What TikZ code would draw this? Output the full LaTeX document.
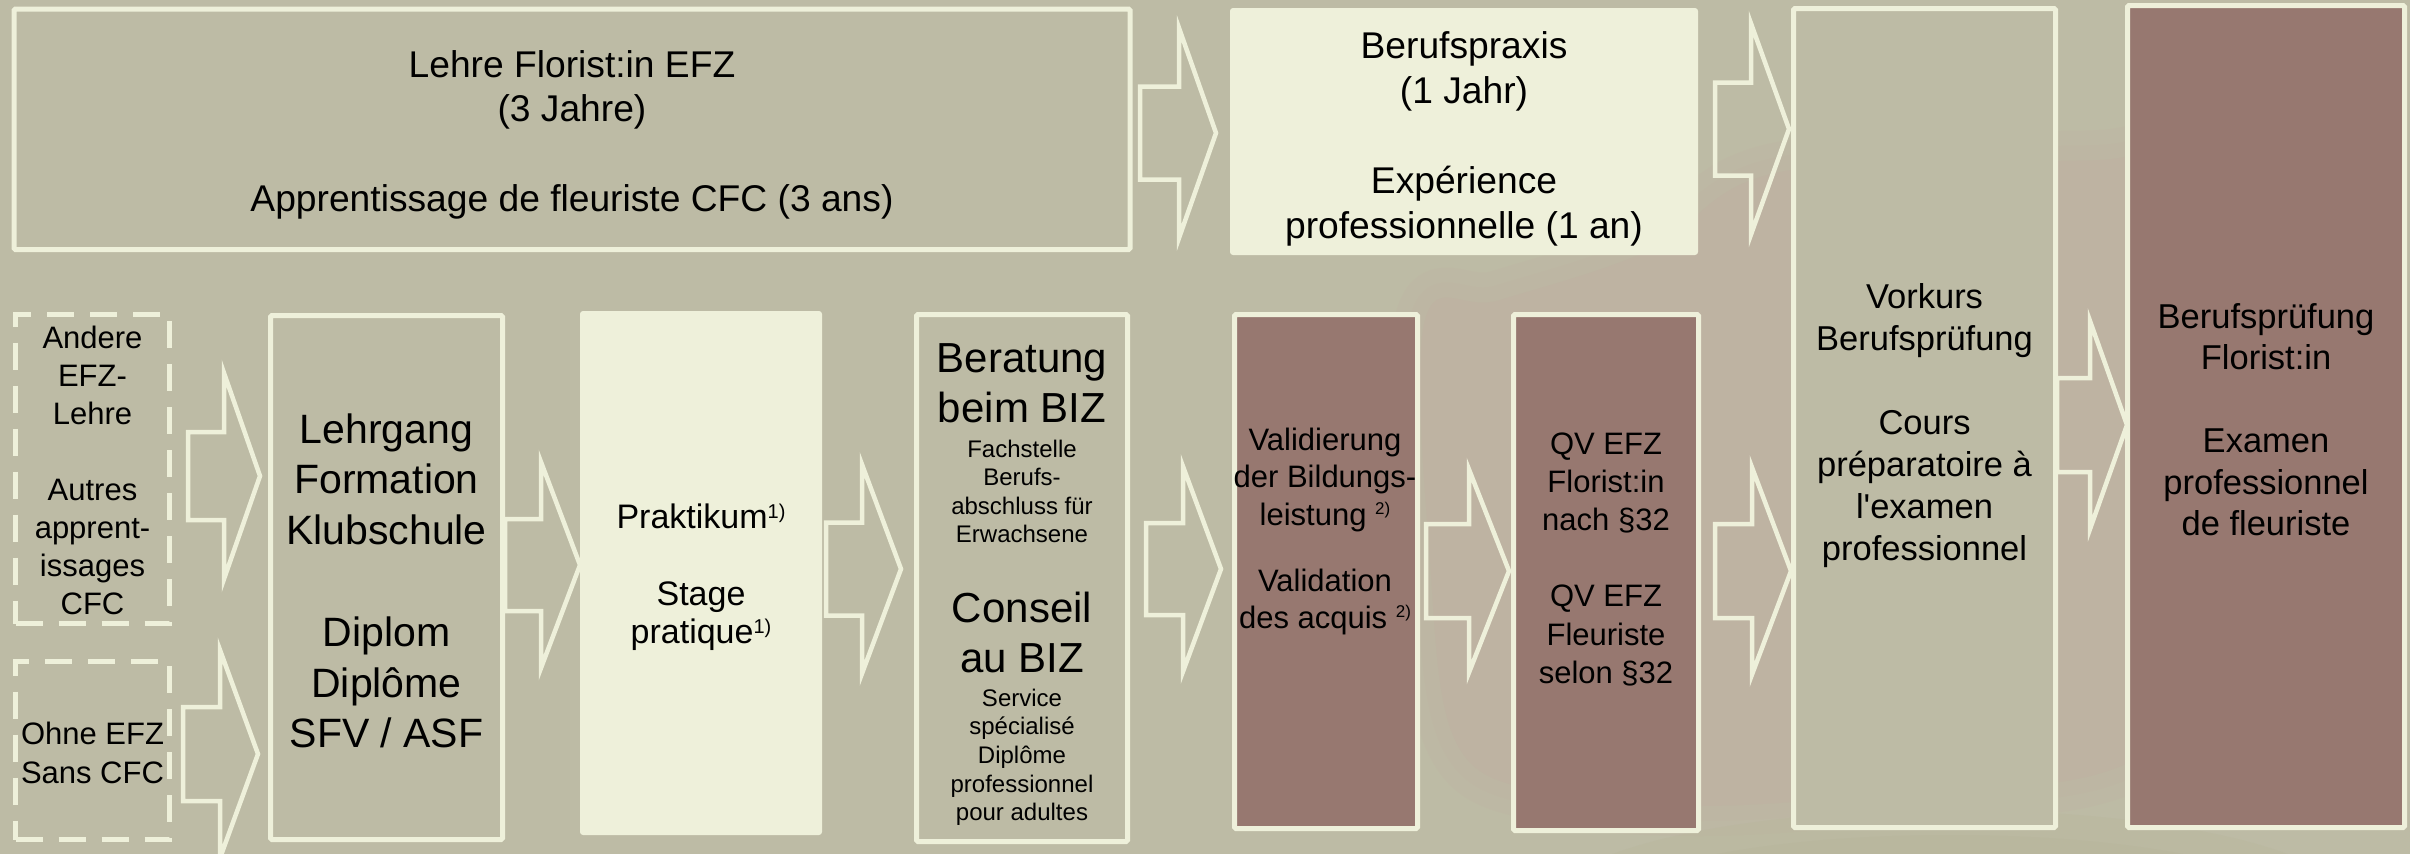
\documentclass[tikz,border=0pt]{standalone}
\usepackage{fontspec}
\setmainfont{Liberation Sans}
\usetikzlibrary{calc}
\definecolor{bg}{HTML}{BDBBA5}
\definecolor{ringc}{HTML}{BEB3A2}
\definecolor{olive}{HTML}{B8B69C}
\definecolor{cream}{HTML}{EEF0DA}
\definecolor{mauve}{HTML}{977870}
\newcommand\fsz[2]{\fontsize{#1pt}{#2pt}\selectfont}
\newcommand\myst[1]{\rule{0pt}{#1pt}}
\newcommand\supa{\raisebox{10pt}{\fsz{20}{20}1)}}
\newcommand\supb{\raisebox{11pt}{\fsz{17}{17}2)}}
\newcommand\swirlpath{plot[smooth cycle,tension=0.6] coordinates {(1425,320) (1430,560) (1455,740)
  (1540,792) (1700,806) (1900,792) (2130,762) (2300,600) (2300,150) (2100,160)
  (1780,172) (1650,250) (1500,300)}}
% #1 tail coord, #2 tip coord, #3 head length, #4 shaft half height, #5 head half height
\newcommand\barrow[5]{%
  \draw[blockarrow] let \p1=(#1), \p2=(#2) in
    (\x1,\y1+#4pt) -- (\x2-#3pt,\y1+#4pt) -- (\x2-#3pt,\y1+#5pt) -- (\x2,\y1)
    -- (\x2-#3pt,\y1-#5pt) -- (\x2-#3pt,\y1-#4pt) -- (\x1,\y1-#4pt) -- cycle;}
\begin{document}
\begin{tikzpicture}[x=1pt,y=-1pt,
  obox/.style={draw=cream,line width=5pt,fill=bg,inner sep=0pt,outer sep=0pt,rounded corners=1.5pt},
  cbox/.style={fill=cream,draw=none,inner sep=0pt,outer sep=0pt,rounded corners=3pt},
  mbox/.style={draw=cream,line width=5pt,fill=mauve,inner sep=0pt,outer sep=0pt,rounded corners=1.5pt},
  dbox/.style={draw=cream,line width=5pt,fill=bg,dash pattern=on 27pt off 16pt,inner sep=0pt,outer sep=0pt},
  blockarrow/.style={draw=cream,line width=4.5pt,line join=miter},
  txt/.style={inner sep=0pt,outer sep=0pt,anchor=north,align=center,text=black}]
\useasboundingbox (0,0) rectangle (2410,854);
\clip (0,0) rectangle (2410,854);
\fill[bg] (0,0) rectangle (2410,854);
% decorative background swirl, soft edged
\draw[ringc,line width=60pt,opacity=0.3,line join=round] \swirlpath;
\draw[ringc,line width=30pt,opacity=0.4,line join=round] \swirlpath;
\fill[ringc] \swirlpath;
\fill[olive,opacity=0.4] (1950,905) ellipse[x radius=400pt,y radius=95pt];
\fill[olive,opacity=0.6] (1950,905) ellipse[x radius=340pt,y radius=70pt];

% arrow end coordinates
\coordinate (tT1) at (1140,133); \coordinate (hT1) at (1216,133);
\coordinate (tT2) at (1715,129); \coordinate (hT2) at (1789,129);
\coordinate (tA1) at (188,476);  \coordinate (hA1) at (260,476);
\coordinate (tA2) at (183,754);  \coordinate (hA2) at (258,754);
\coordinate (tB) at (505,565);   \coordinate (hB) at (580,565);
\coordinate (tC) at (826,569);   \coordinate (hC) at (901,569);
\coordinate (tD) at (1146,569);  \coordinate (hD) at (1221,569);
\coordinate (tE) at (1426,571);  \coordinate (hE) at (1509,571);
\coordinate (tF) at (1715,571);  \coordinate (hF) at (1791,571);
\coordinate (tG) at (2057,425);  \coordinate (hG) at (2127,425);

\barrow{tT1}{hT1}{37}{46.5}{105}
\barrow{tT2}{hT2}{38}{46.5}{105.5}
\barrow{tA1}{hA1}{36}{44}{103}
\barrow{tA2}{hA2}{38}{47}{104}
\barrow{tB}{hB}{39}{46}{103}
\barrow{tC}{hC}{39}{46.5}{104.5}
\barrow{tD}{hD}{38}{46}{102.5}
\barrow{tE}{hE}{40}{47}{101.5}
\barrow{tF}{hF}{39}{47}{103.5}
\barrow{tG}{hG}{37}{47}{104}

% boxes
\node[obox,minimum width=1116pt,minimum height=240.5pt] (lehre) at (572,129.25) {};
\node[cbox,minimum width=468pt,minimum height=247pt] (praxis) at (1464,131.5) {};
\node[obox,minimum width=262pt,minimum height=819pt] (vorkurs) at (1924.5,418) {};
\node[mbox,minimum width=277pt,minimum height=822pt] (bp) at (2266,416.5) {};
\node[dbox,minimum width=154pt,minimum height=309pt] (andere) at (92.5,469) {};
\node[dbox,minimum width=154pt,minimum height=178pt] (ohne) at (92.5,750.5) {};
\node[obox,minimum width=232pt,minimum height=524pt] (lehrgang) at (386.5,577.5) {};
\node[cbox,minimum width=242pt,minimum height=524pt] (prakt) at (701,573) {};
\node[obox,minimum width=211pt,minimum height=527pt] (biz) at (1022,578) {};
\node[mbox,minimum width=183pt,minimum height=514pt] (valid) at (1326,571.5) {};
\node[mbox,minimum width=185pt,minimum height=516pt] (qv) at (1606,572.5) {};

% texts
\node[txt,font=\fsz{37.2}{44.7}] (tlehre) at (572,39.8)
  {\myst{37.2}Lehre Florist:in EFZ\\(3 Jahre)\\[44.7pt]Apprentissage de fleuriste CFC (3 ans)};
\node[txt,font=\fsz{37.2}{45}] (tpraxis) at (1464,20.8)
  {\myst{37.2}Berufspraxis\\(1 Jahr)\\[45pt]Expérience\\professionnelle (1 an)};
\node[txt,font=\fsz{31}{38}] (tandere) at (92.5,317)
  {\myst{31}Andere\\EFZ-\\Lehre\\[38pt]Autres\\apprent-\\issages\\CFC};
\node[txt,font=\fsz{31}{39}] (tohne) at (92.5,713)
  {\myst{31}Ohne EFZ\\Sans CFC};
\node[txt,font=\fsz{41}{50.8}] (tlehrgang) at (386.5,402)
  {\myst{41}Lehrgang\\Formation\\Klubschule\\[50.8pt]Diplom\\Diplôme\\SFV / ASF};
\node[txt,font=\fsz{34}{38.5}] (tprakt) at (701,494)
  {\myst{34}Praktikum\supa\\[38.5pt]Stage\\pratique\supa};
\node[txt,font=\fsz{42}{50}] (tbiz1) at (1022,330)
  {\myst{42}Beratung\\beim BIZ};
\node[txt,font=\fsz{24}{28.6}] (tbiz2) at (1022,433)
  {\myst{24}Fachstelle\\Berufs-\\abschluss für\\Erwachsene};
\node[txt,font=\fsz{42}{50}] (tbiz3) at (1022,580)
  {\myst{42}Conseil\\au BIZ};
\node[txt,font=\fsz{24}{28.7}] (tbiz4) at (1022,682)
  {\myst{24}Service\\spécialisé\\Diplôme\\professionnel\\pour adultes};
\node[txt,font=\fsz{31}{37.5}] (tvalid) at (1325,419)
  {\myst{31}Validierung\\der Bildungs-\\leistung \supb\\[28.5pt]Validation\\des acquis \supb};
\node[txt,font=\fsz{31}{38.2}] (tqv) at (1606,423)
  {\myst{31}QV EFZ\\Florist:in\\nach §32\\[38.2pt]QV EFZ\\Fleuriste\\selon §32};
\node[txt,font=\fsz{34.5}{42}] (tvorkurs) at (1924.5,273.5)
  {\myst{34.5}Vorkurs\\Berufsprüfung\\[42pt]Cours\\préparatoire à\\l\textquotesingle examen\\professionnel};
\node[txt,font=\fsz{34.5}{41.5}] (tbp) at (2266,293.5)
  {\myst{34.5}Berufsprüfung\\Florist:in\\[41.5pt]Examen\\professionnel\\de fleuriste};
\end{tikzpicture}
\end{document}
